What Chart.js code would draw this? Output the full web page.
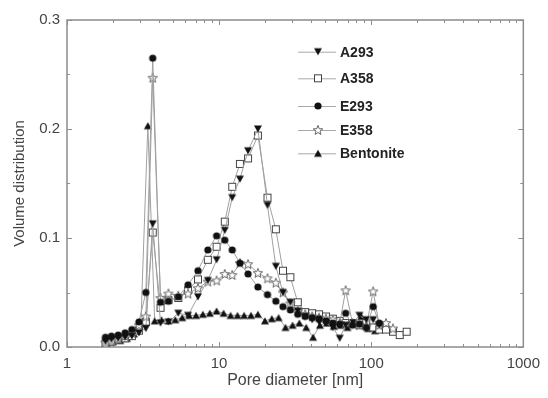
<!DOCTYPE html>
<html><head><meta charset="utf-8">
<script src="https://cdn.jsdelivr.net/npm/chart.js@4"></script>
<style>html,body{margin:0;padding:0;background:#fff}#wrap{width:548px;height:398px;position:relative}</style>
</head><body><div id="wrap"><canvas id="c" width="548" height="398"></canvas></div>
<script>
// ---- data ----
const diam = [1.79,1.96,2.17,2.41,2.67,2.97,3.30,3.66,4.12,4.64,5.39,6.25,7.26,8.43,9.63,10.9,12.2,13.7,15.5,18.0,20.8,23.6,26.3,29.4,32.9,36.8,40.9,45.4,50.4,55.9,62.1,67.9,75.3,83.6,92.8,103,113,125,139,154,171];
const a293 = [0.005,0.007,0.008,0.009,0.010,0.013,0.017,0.113,0.022,0.023,0.031,0.029,0.046,0.061,0.080,0.107,0.137,0.154,0.180,0.200,0.130,0.074,0.050,0.041,0.033,0.028,0.025,0.023,0.022,0.018,0.008,0.020,0.022,0.029,0.025,0.025,0.020,null,null,null,null];
const a358 = [0.003,0.005,0.007,0.008,0.010,0.015,0.023,0.105,0.036,0.043,0.045,0.052,0.062,0.080,0.092,0.115,0.147,0.168,0.173,0.194,0.137,0.108,0.070,0.064,0.041,0.032,0.031,0.030,0.028,0.026,0.024,0.022,0.022,0.020,0.022,0.018,0.016,0.016,0.014,0.011,0.014];
const e293 = [0.009,0.010,0.011,0.013,0.016,0.023,0.050,0.265,0.041,0.042,0.046,0.057,0.070,0.089,0.102,0.098,0.089,0.077,0.067,0.055,0.048,0.042,0.037,0.034,0.030,0.028,0.027,0.026,0.024,0.022,0.021,0.031,0.020,0.021,0.018,0.037,0.022,null,null,null,null];
const e358 = [0.004,0.006,0.008,0.010,0.013,0.020,0.028,0.247,0.045,0.049,0.047,0.049,0.054,0.060,0.061,0.067,0.066,0.077,0.076,0.068,0.063,0.059,0.050,0.040,0.033,0.030,0.028,0.027,0.026,0.025,0.022,0.052,0.022,0.020,0.019,0.051,0.020,0.022,0.017,null,null];
const bentDiam = [1.82,2.01,2.24,2.48,2.75,3.06,3.40,3.77,4.18,4.64,5.15,5.72,6.35,7.05,7.82,8.68,9.63,10.7,11.9,13.2,14.6,16.2,18.0,20.0,22.2,24.6,27.3,30.4,33.7,37.4,41.5,46.0,51.1,56.7,62.9,69.8,77.5,86.0,95.4,106,117];
const bent = [0.004,0.005,0.006,0.008,0.012,0.022,0.203,0.024,0.025,0.024,0.025,0.027,0.029,0.029,0.030,0.031,0.033,0.031,0.029,0.029,0.029,0.029,0.030,0.024,0.026,0.027,0.018,0.020,0.022,0.018,0.009,0.020,0.022,0.019,0.020,0.018,0.022,0.028,0.017,0.015,0.017];
const seriesNames = ['A293','A358','E293','E358','Bentonite'];
const xTicks = [1,10,100,1000];
const yTicks = [0.0,0.1,0.2,0.3];
const xTitle = 'Pore diameter [nm]';
const yTitle = 'Volume distribution';

// ---- markers ----
function mk(draw){const c=document.createElement('canvas');c.width=12;c.height=12;const g=c.getContext('2d');draw(g);return c;}
const mDown = mk(g=>{g.fillStyle='#111';g.beginPath();g.moveTo(2,2.5);g.lineTo(10,2.5);g.lineTo(6,9.5);g.closePath();g.fill();});
const mUp = mk(g=>{g.fillStyle='#111';g.beginPath();g.moveTo(6,2.5);g.lineTo(10,9.5);g.lineTo(2,9.5);g.closePath();g.fill();});
const mCircle = mk(g=>{g.fillStyle='#111';g.beginPath();g.arc(6,6,3.6,0,Math.PI*2);g.fill();});
const mSquare = mk(g=>{g.fillStyle='#fff';g.strokeStyle='#444';g.lineWidth=1;g.fillRect(2.5,2.5,7,7);g.strokeRect(2.5,2.5,7,7);});
const mStar = mk(g=>{g.fillStyle='#fff';g.strokeStyle='#666';g.lineWidth=1;g.beginPath();
  for(let i=0;i<10;i++){const r=i%2?2.1:5;const a=-Math.PI/2+i*Math.PI/5;const x=6+r*Math.cos(a),y=6.4+r*Math.sin(a);i?g.lineTo(x,y):g.moveTo(x,y);}
  g.closePath();g.fill();g.stroke();});
const markers = [mDown,mSquare,mCircle,mStar,mUp];

function pts(xs,ys){const o=[];xs.forEach((x,i)=>{if(ys[i]!==null)o.push({x:x,y:ys[i]});});return o;}
const ser = [pts(diam,a293),pts(diam,a358),pts(diam,e293),pts(diam,e358),pts(bentDiam,bent)];

const datasets = ser.map((d,i)=>({label:seriesNames[i],data:d,borderColor:'#a0a0a0',borderWidth:1,
  pointStyle:markers[i],pointRadius:4,pointHoverRadius:4,showLine:true,fill:false,tension:0}));
// draw order: keep filled circles above open ones similar to reference
datasets.forEach((d,i)=>{d.order=[2,4,1,3,5][i];});

const legendY = [51.7,78.3,106,130,153.3];
const frameColor = '#8c8c8c';
const framePlugin = {
  id:'frame',
  beforeDatasetsDraw(chart){
    const {ctx,chartArea:a,scales:{x,y}} = chart;
    ctx.save();ctx.strokeStyle=frameColor;ctx.lineWidth=1.5;
    ctx.strokeRect(a.left,a.top,a.right-a.left,a.bottom-a.top);
    ctx.lineWidth=1;ctx.beginPath();
    for(let d=1;d<1000;d*=10){for(let k=1;k<=10;k++){const v=d*k;if(v>1000)break;const px=Math.round(x.getPixelForValue(v))+0.5;const L=(k===1||k===10)?5:3;
      ctx.moveTo(px,a.bottom);ctx.lineTo(px,a.bottom-L);ctx.moveTo(px,a.top);ctx.lineTo(px,a.top+L);}}
    for(let v=0;v<=0.3001;v+=0.05){const py=Math.round(y.getPixelForValue(v))+0.5;const L=(Math.round(v*100)%10===0)?5:3;
      ctx.moveTo(a.left,py);ctx.lineTo(a.left+L,py);ctx.moveTo(a.right,py);ctx.lineTo(a.right-L,py);}
    ctx.stroke();ctx.restore();
  },
  afterDraw(chart){
    const ctx=chart.ctx;ctx.save();
    chart.data.datasets.forEach((d,i)=>{
      const yy=legendY[i];
      ctx.strokeStyle='#a8a8a8';ctx.lineWidth=1;ctx.beginPath();ctx.moveTo(298,yy+0.5);ctx.lineTo(336,yy+0.5);ctx.stroke();
      ctx.drawImage(markers[i],318-6,yy-6);
      ctx.fillStyle='#222';ctx.font='bold 14px "Liberation Sans", Arial, sans-serif';ctx.textBaseline='middle';ctx.textAlign='left';
      ctx.fillText(d.label,340,yy+1);
    });
    ctx.restore();
  }
};

Chart.defaults.font.family='"Liberation Sans", Arial, sans-serif';
new Chart(document.getElementById('c'),{
  type:'scatter',
  data:{datasets},
  options:{
    responsive:false,animation:false,
    layout:{padding:{top:20,right:17,left:0,bottom:0}},
    plugins:{legend:{display:false},tooltip:{enabled:false}},
    scales:{
      x:{type:'logarithmic',min:1,max:1000,
        afterBuildTicks(s){s.ticks=xTicks.map(v=>({value:v}));},
        afterFit(s){s.height=51;},
        grid:{display:false,drawTicks:false},border:{display:false},
        ticks:{color:'#444',font:{size:15},padding:8,maxRotation:0,autoSkip:false,callback:v=>String(v)},
        title:{display:true,text:xTitle,color:'#444',font:{size:16},padding:{top:0,bottom:8}}},
      y:{min:0,max:0.3,
        afterBuildTicks(s){s.ticks=yTicks.map(v=>({value:v}));},
        afterFit(s){s.width=67;},
        grid:{display:false,drawTicks:false},border:{display:false},
        ticks:{color:'#444',font:{size:15},padding:7,callback:v=>Number(v).toFixed(1)},
        title:{display:true,text:yTitle,color:'#444',font:{size:15},padding:{top:11,bottom:0}}}
    }
  },
  plugins:[framePlugin]
});
</script></body></html>
